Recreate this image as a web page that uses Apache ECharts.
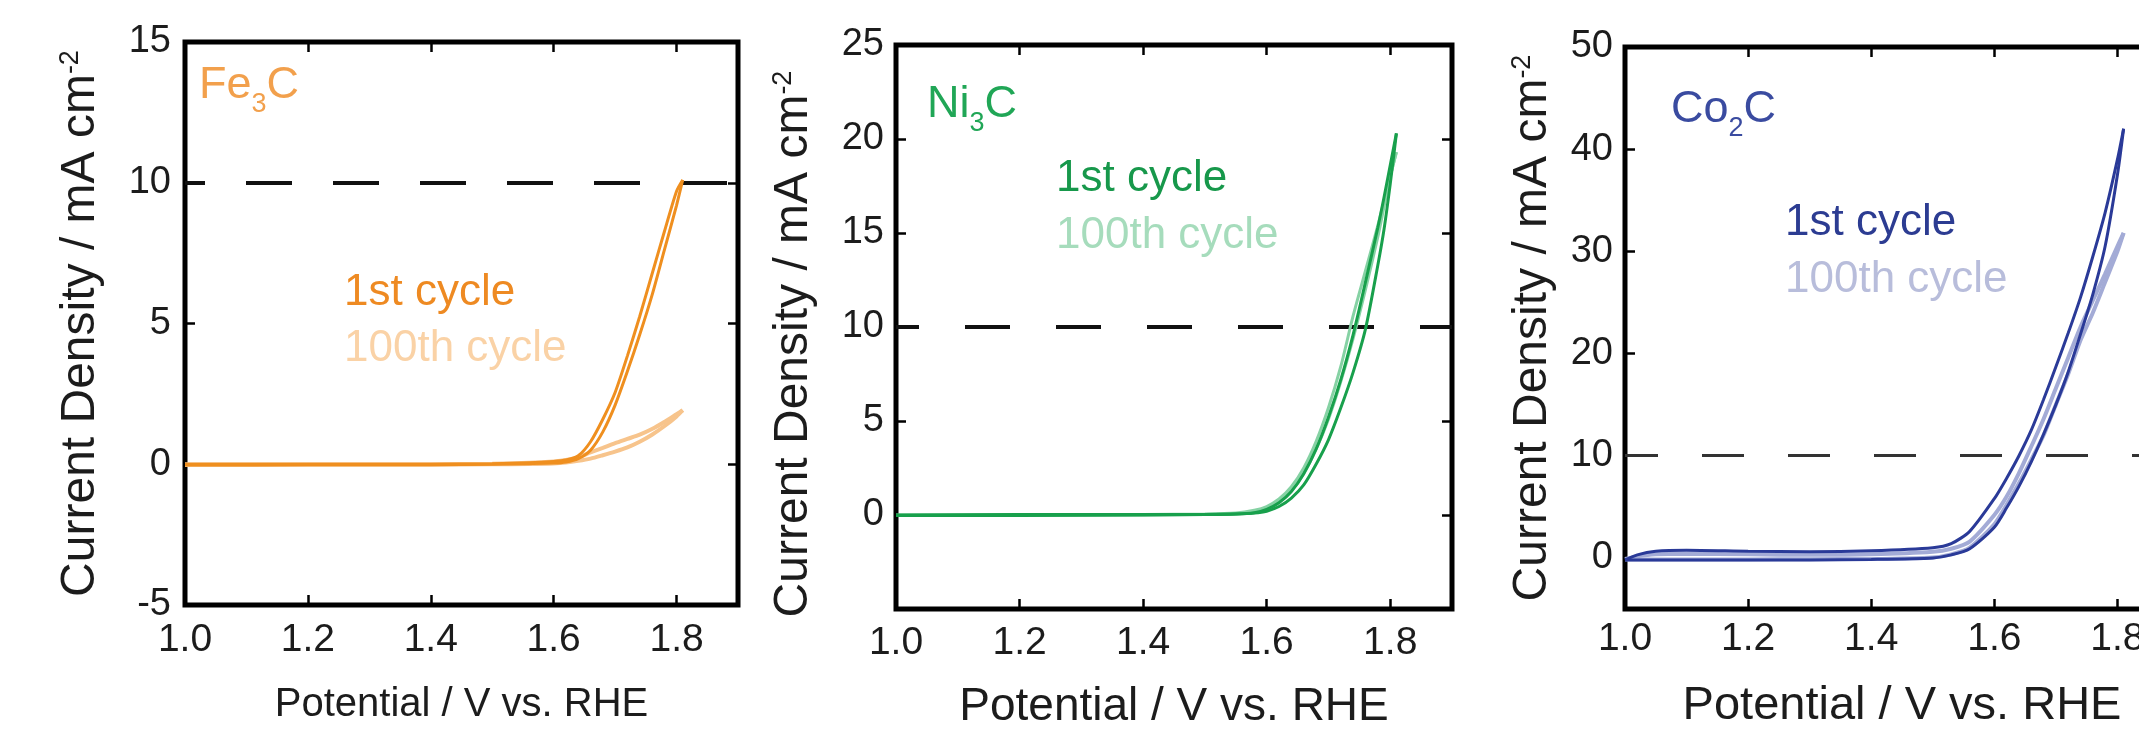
<!DOCTYPE html>
<html><head><meta charset="utf-8">
<script src="https://cdn.jsdelivr.net/npm/echarts@6/dist/echarts.min.js"></script>
<style>html,body{margin:0;padding:0;overflow:hidden;background:#fff}#c{width:2200px;height:735px}</style>
</head><body><div id="c"></div><script>
// ---------- tick labels ----------
const potentialTicks = [1.0, 1.2, 1.4, 1.6, 1.8];
const feCurrentTicks = [-5, 0, 5, 10, 15];
const niCurrentTicks = [0, 5, 10, 15, 20, 25];
const coCurrentTicks = [0, 10, 20, 30, 40, 50];
const referenceCurrent = 10;

// ---------- Fe3C (mA cm-2 vs V) ----------
const fePotFwd = [1.00, 1.20, 1.40, 1.50, 1.56, 1.60, 1.62, 1.64, 1.66, 1.68, 1.70, 1.72, 1.74, 1.76, 1.78, 1.80, 1.81];
const fePotRev = [1.81, 1.80, 1.78, 1.76, 1.74, 1.72, 1.70, 1.68, 1.66, 1.64, 1.62, 1.60, 1.56, 1.50, 1.40, 1.20, 1.00];
const fe1stFwd = [0.00, 0.00, 0.00, 0.02, 0.05, 0.10, 0.15, 0.30, 0.80, 1.60, 2.55, 3.85, 5.25, 6.75, 8.25, 9.70, 10.10];
const fe1stRev = [10.10, 9.20, 7.60, 6.00, 4.60, 3.30, 2.10, 1.15, 0.50, 0.20, 0.08, 0.04, 0.02, 0.00, -0.02, -0.02, -0.03];
const fe100Fwd = [0.00, 0.00, 0.00, 0.02, 0.05, 0.10, 0.15, 0.25, 0.42, 0.58, 0.75, 0.90, 1.05, 1.25, 1.50, 1.78, 1.92];
const fe100Rev = [1.92, 1.70, 1.35, 1.05, 0.80, 0.60, 0.45, 0.32, 0.20, 0.12, 0.06, 0.03, 0.01, 0.00, -0.02, -0.02, -0.03];

// ---------- Ni3C ----------
const niPotFwd = [1.00, 1.20, 1.40, 1.50, 1.55, 1.58, 1.60, 1.62, 1.64, 1.66, 1.68, 1.70, 1.72, 1.74, 1.76, 1.78, 1.79, 1.80, 1.81];
const niPotRev = [1.81, 1.80, 1.79, 1.78, 1.76, 1.74, 1.72, 1.70, 1.68, 1.66, 1.64, 1.62, 1.60, 1.58, 1.55, 1.50, 1.40, 1.20, 1.00];
const ni1stFwd = [0.00, 0.02, 0.03, 0.03, 0.05, 0.10, 0.20, 0.45, 0.90, 1.60, 2.70, 4.00, 5.70, 7.60, 9.90, 13.3, 15.2, 17.6, 20.3];
const ni1stRev = [20.3, 18.6, 16.9, 15.3, 12.4, 9.6, 7.2, 5.2, 3.5, 2.2, 1.25, 0.65, 0.30, 0.12, 0.05, 0.02, 0.00, -0.02, -0.03];
const ni100Fwd = [0.00, 0.02, 0.03, 0.05, 0.10, 0.25, 0.45, 0.85, 1.50, 2.50, 3.90, 5.70, 7.90, 10.6, 13.0, 15.4, 16.7, 18.0, 19.3];
const ni100Rev = [19.3, 18.0, 16.4, 14.8, 12.0, 9.4, 7.1, 5.1, 3.5, 2.2, 1.30, 0.70, 0.35, 0.15, 0.06, 0.02, 0.00, -0.02, -0.03];

// ---------- Co2C ----------
const coPotFwd = [1.00, 1.02, 1.05, 1.10, 1.20, 1.30, 1.40, 1.50, 1.53, 1.56, 1.60, 1.62, 1.64, 1.66, 1.68, 1.70, 1.72, 1.74, 1.76, 1.78, 1.80, 1.81];
const coPotRev = [1.81, 1.80, 1.78, 1.76, 1.74, 1.72, 1.70, 1.68, 1.66, 1.64, 1.62, 1.60, 1.56, 1.53, 1.50, 1.40, 1.30, 1.20, 1.10, 1.05, 1.02, 1.00];
const co1stFwd = [-0.2, 0.3, 0.65, 0.75, 0.65, 0.6, 0.7, 1.0, 1.4, 2.6, 5.8, 7.8, 10.0, 12.5, 15.5, 18.7, 22.0, 25.5, 29.5, 33.8, 39.0, 42.0];
const co1stRev = [42.0, 37.5, 30.5, 25.8, 21.9, 18.2, 15.0, 12.1, 9.4, 7.0, 4.9, 3.0, 0.9, 0.3, 0.0, -0.15, -0.2, -0.2, -0.2, -0.2, -0.2, -0.2];
const co100Fwd = [-0.1, 0.15, 0.35, 0.4, 0.35, 0.3, 0.35, 0.6, 0.9, 1.6, 4.2, 6.0, 8.3, 10.9, 13.6, 16.6, 19.6, 22.6, 25.2, 27.8, 30.5, 31.8];
const co100Rev = [31.8, 30.0, 27.0, 24.0, 21.3, 18.0, 15.0, 12.0, 9.6, 7.3, 5.2, 3.3, 1.0, 0.35, 0.05, -0.1, -0.12, -0.15, -0.15, -0.15, -0.15, -0.15];

// ---------- layout / style (not data) ----------
const FONT = "'Liberation Sans', Arial, Helvetica, sans-serif";
const TXT = '#1c1c1c';
const panels = [
  { grid: {left: 185, top: 42, width: 553, height: 563}, ymin: -5, ymax: 15, yLabels: feCurrentTicks,
    yTicks: [0, 5, 10], xLabelMargin: 16, yLabelMargin: 14, xNameSize: 40, xNameGap: 80, yNameGap: 80, yNamePad: [0,0,0,0],
    dash: {type: [46, 41], offset: 26, width: 4, color: '#111'},
    pot: [fePotFwd, fePotRev], first: [fe1stFwd, fe1stRev], hundred: [fe100Fwd, fe100Rev],
    c1: '#EF8F1F', c100: '#F7C48C', w1: 3, w100: 4 },
  { grid: {left: 896, top: 45, width: 556, height: 567}, ymin: -5, ymax: 25, yLabels: niCurrentTicks,
    yTicks: [0, 5, 10, 15, 20], xLabelMargin: 15, yLabelMargin: 12, xNameSize: 46, xNameGap: 75, yNameGap: 78, yNamePad: [0,34,0,0],
    dash: {type: [45, 46], offset: 22, width: 4, color: '#111'},
    pot: [niPotFwd, niPotRev], first: [ni1stFwd, ni1stRev], hundred: [ni100Fwd, ni100Rev],
    c1: '#18A04C', c100: '#86D2A4', w1: 3, w100: 3 },
  { grid: {left: 1625, top: 47, width: 554, height: 565}, ymin: -5, ymax: 50, yLabels: coCurrentTicks,
    yTicks: [0, 10, 20, 30, 40], xLabelMargin: 11, yLabelMargin: 12, xNameSize: 47, xNameGap: 74, yNameGap: 68, yNamePad: [0,0,0,0],
    dash: {type: [42, 44], offset: 9, width: 3, color: '#333'},
    pot: [coPotFwd, coPotRev], first: [co1stFwd, co1stRev], hundred: [co100Fwd, co100Rev],
    c1: '#2A3A98', c100: '#A3ABD6', w1: 3, w100: 4 }
];

const grids = [], xAxes = [], yAxes = [], series = [];
const tickStyle = {show: true, inside: true, length: 10, lineStyle: {color: '#000', width: 2.5}};
const noLine = {show: false, onZero: false};
panels.forEach((p, i) => {
  grids.push(Object.assign({show: true, borderColor: '#000', borderWidth: 5, backgroundColor: 'transparent'}, p.grid));
});
// bottom x axes
panels.forEach((p, i) => {
  xAxes.push({
    type: 'value', gridIndex: i, min: 1.0, max: 1.9, position: 'bottom',
    axisLine: noLine, splitLine: {show: false},
    axisTick: Object.assign({customValues: potentialTicks}, tickStyle),
    axisLabel: {customValues: potentialTicks, formatter: v => v.toFixed(1), fontSize: 39, color: TXT, fontFamily: FONT, margin: p.xLabelMargin},
    name: 'Potential / V vs. RHE', nameLocation: 'middle', nameGap: p.xNameGap,
    nameTextStyle: {fontSize: p.xNameSize, color: TXT, fontFamily: FONT}
  });
});
// top x axes (ticks only)
panels.forEach((p, i) => {
  xAxes.push({
    type: 'value', gridIndex: i, min: 1.0, max: 1.9, position: 'top',
    axisLine: noLine, splitLine: {show: false},
    axisTick: Object.assign({customValues: potentialTicks}, tickStyle),
    axisLabel: {show: false}
  });
});
// left y axes
panels.forEach((p, i) => {
  yAxes.push({
    type: 'value', gridIndex: i, min: p.ymin, max: p.ymax, position: 'left',
    axisLine: noLine, splitLine: {show: false},
    axisTick: Object.assign({customValues: p.yTicks}, tickStyle),
    axisLabel: {customValues: p.yLabels, fontSize: 38, color: TXT, fontFamily: FONT, margin: p.yLabelMargin},
    name: 'Current Density / mA cm{sup|-2}', nameLocation: 'middle', nameRotate: 90, nameGap: p.yNameGap,
    nameTextStyle: {fontSize: 48, color: TXT, fontFamily: FONT, padding: p.yNamePad,
      rich: {sup: {fontSize: 27, color: TXT, fontFamily: FONT, verticalAlign: 'top'}}}
  });
});
// right y axes (ticks only)
panels.forEach((p, i) => {
  yAxes.push({
    type: 'value', gridIndex: i, min: p.ymin, max: p.ymax, position: 'right',
    axisLine: noLine, splitLine: {show: false},
    axisTick: Object.assign({customValues: p.yTicks}, tickStyle),
    axisLabel: {show: false}
  });
});

const pairs = (xs, ys) => xs.map((x, k) => [x, ys[k]]);
panels.forEach((p, i) => {
  const base = {type: 'line', xAxisIndex: i, yAxisIndex: i, showSymbol: false, symbol: 'none', smooth: 0.25, clip: true, silent: true};
  // 100th cycle (behind)
  series.push(Object.assign({}, base, {
    name: '100th cycle', data: pairs(p.pot[0], p.hundred[0]), lineStyle: {color: p.c100, width: p.w100}, z: 2,
    markLine: {silent: true, symbol: 'none', label: {show: false}, z: 1,
      lineStyle: {color: p.dash.color, width: p.dash.width, type: p.dash.type, dashOffset: p.dash.offset},
      data: [{yAxis: referenceCurrent}]}
  }));
  series.push(Object.assign({}, base, {name: '100th cycle', data: pairs(p.pot[1], p.hundred[1]), lineStyle: {color: p.c100, width: p.w100}, z: 2}));
  // 1st cycle (front)
  series.push(Object.assign({}, base, {name: '1st cycle', data: pairs(p.pot[0], p.first[0]), lineStyle: {color: p.c1, width: p.w1}, z: 3}));
  series.push(Object.assign({}, base, {name: '1st cycle', data: pairs(p.pot[1], p.first[1]), lineStyle: {color: p.c1, width: p.w1}, z: 3}));
});

// in-plot annotations
const annot = (x, y, text, color, size, rich) => ({
  type: 'text', x: x, y: y, z: 10, silent: true,
  style: Object.assign({text: text, fill: color, font: size + 'px ' + FONT, fontSize: size, fontFamily: FONT,
    align: 'left', verticalAlign: 'middle', textAlign: 'left', textVerticalAlign: 'middle'}, rich ? {rich: rich} : {})
});
const formulaRich = (color) => ({
  b: {fontSize: 45, lineHeight: 64, fontFamily: FONT, fill: color, color: color},
  s: {fontSize: 27, verticalAlign: 'bottom', fontFamily: FONT, fill: color, color: color}
});
const graphics = [
  annot(199, 86, '{b|Fe}{s|3}{b|C}', '#F2A04C', 45, formulaRich('#F2A04C')),
  annot(344, 293, '1st cycle', '#EE8A22', 44),
  annot(344, 349, '100th cycle', '#FAD2A6', 44),
  annot(927, 105, '{b|Ni}{s|3}{b|C}', '#20A656', 45, formulaRich('#20A656')),
  annot(1056, 179, '1st cycle', '#17984B', 44),
  annot(1056, 236, '100th cycle', '#A6DCBC', 44),
  annot(1671, 110, '{b|Co}{s|2}{b|C}', '#3A4BA0', 45, formulaRich('#3A4BA0')),
  annot(1785, 223, '1st cycle', '#2C3C92', 44),
  annot(1785, 280, '100th cycle', '#B8BDDB', 44)
];

const chart = echarts.init(document.getElementById('c'), null, {renderer: 'canvas'});
chart.setOption({
  animation: false,
  backgroundColor: '#fff',
  grid: grids, xAxis: xAxes, yAxis: yAxes, series: series,
  graphic: graphics
});
</script></body></html>
